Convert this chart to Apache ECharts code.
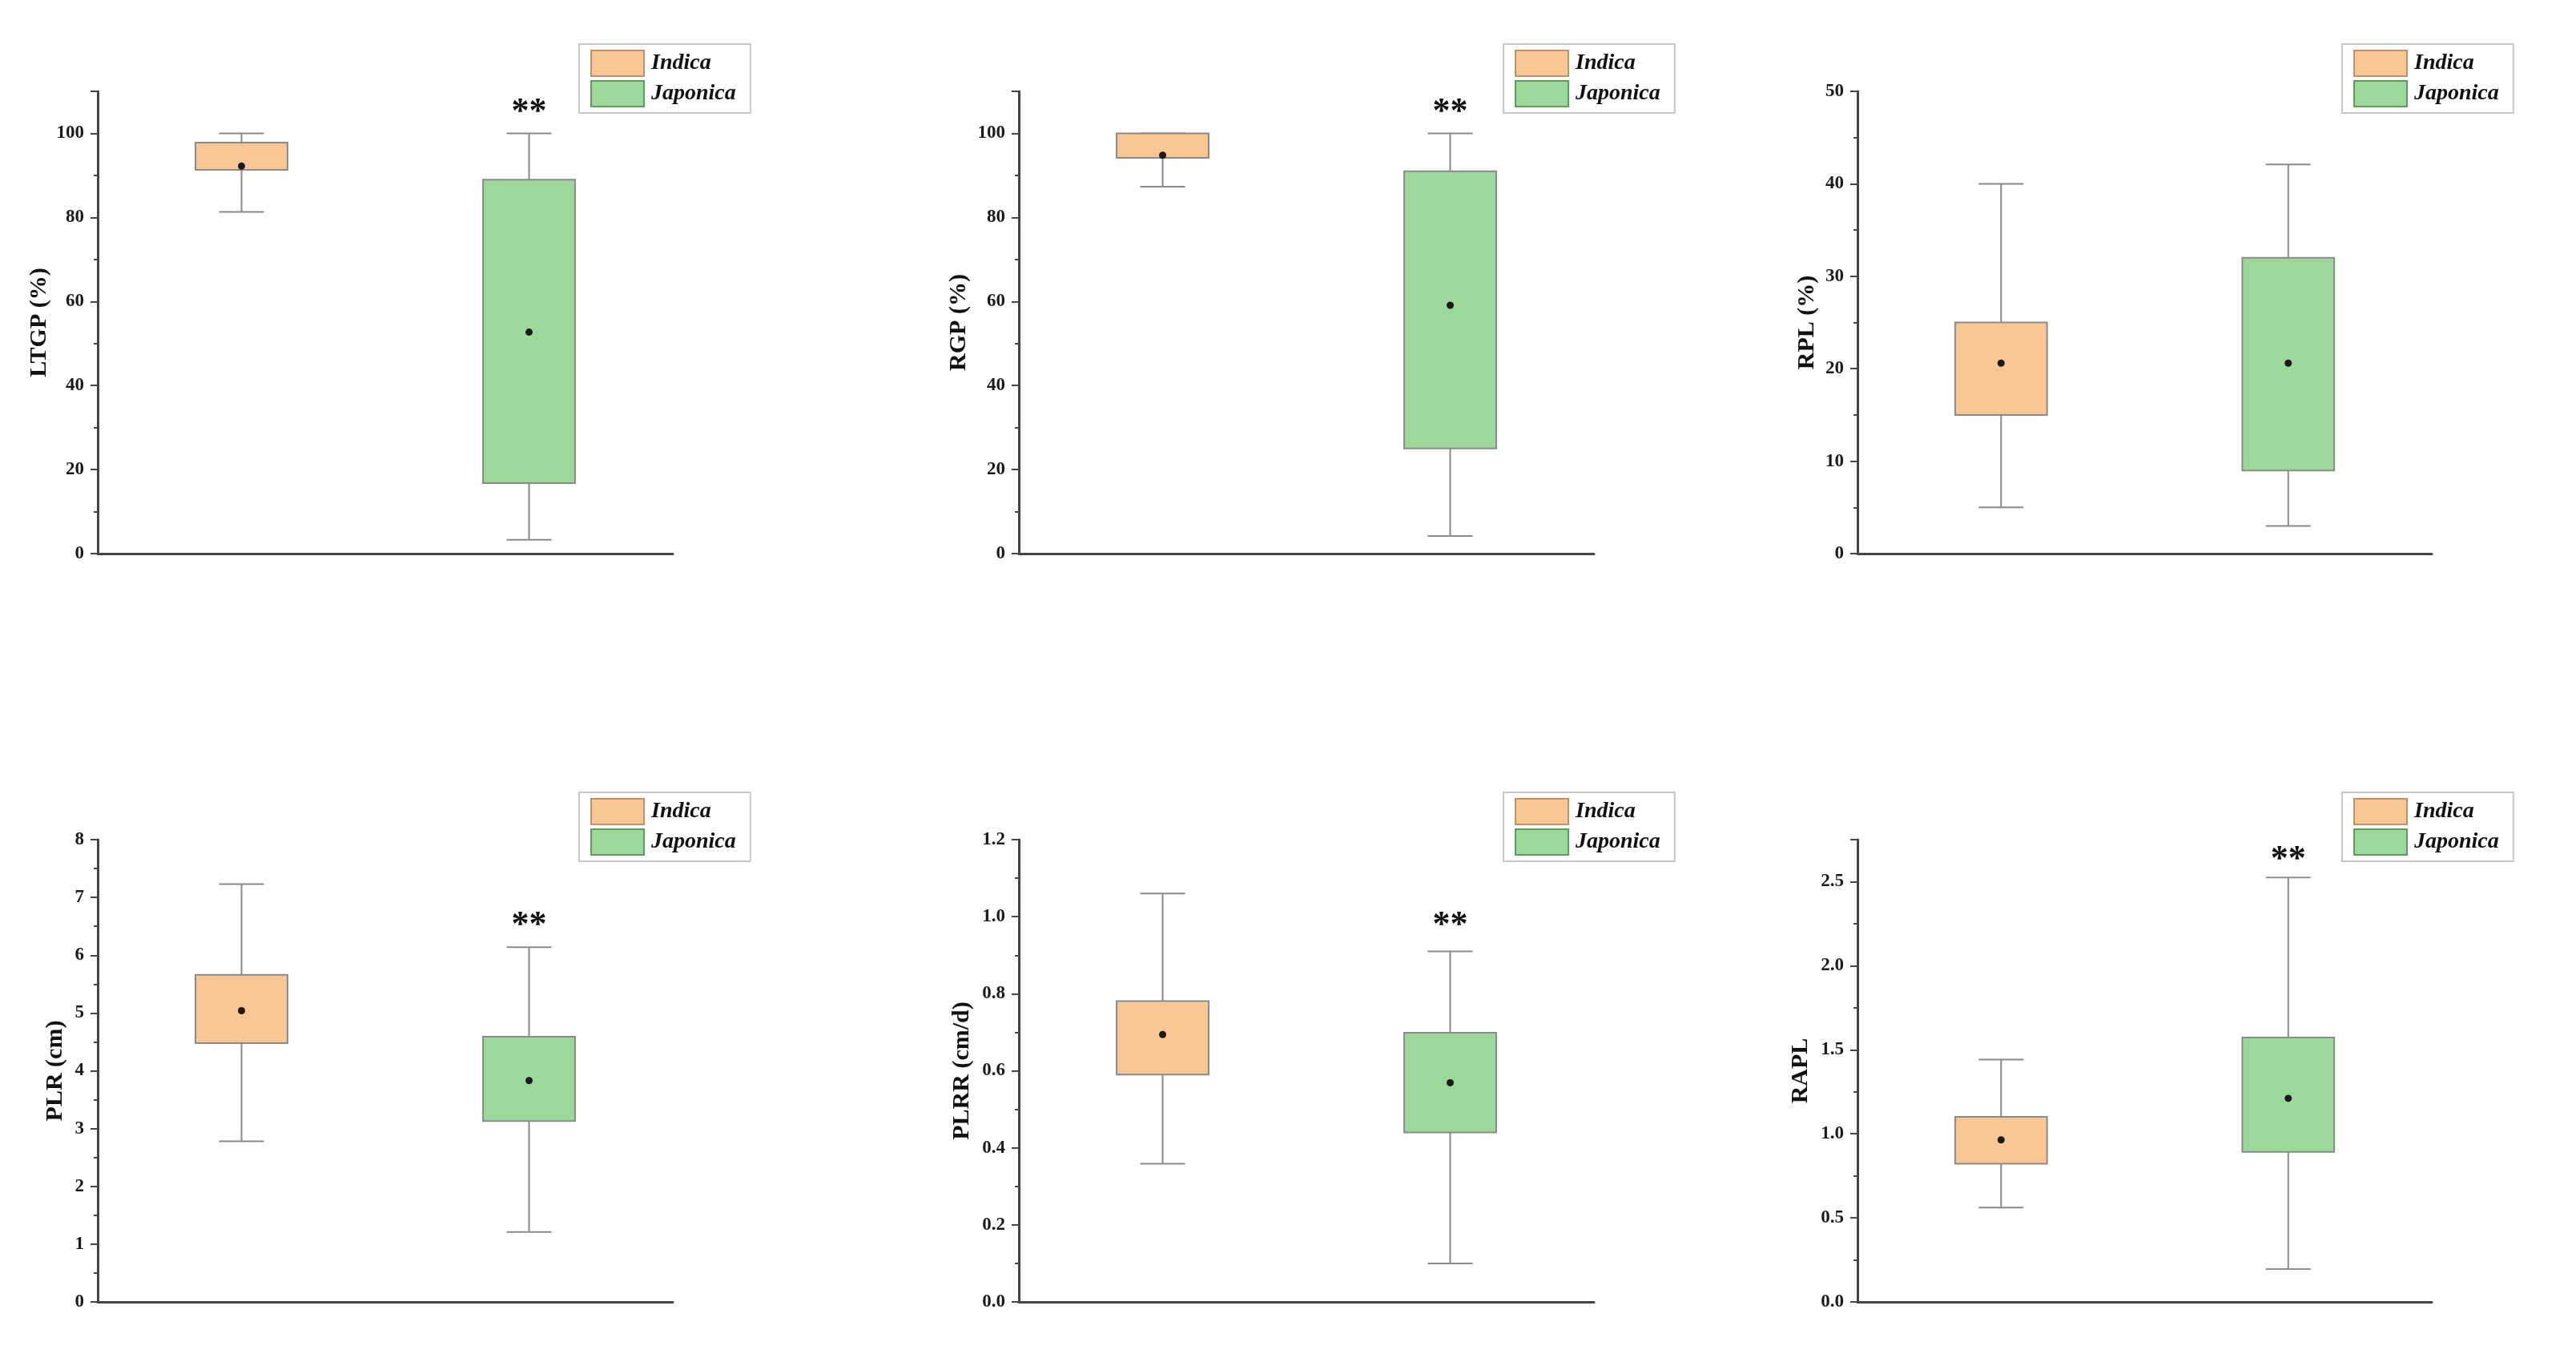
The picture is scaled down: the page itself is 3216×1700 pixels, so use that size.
<!DOCTYPE html>
<html>
<head>
<meta charset="utf-8">
<script src="https://cdn.jsdelivr.net/npm/echarts@6/dist/echarts.min.js"></script>
<style>
  html, body { margin: 0; padding: 0; background: #ffffff; }
  #chart { width: 3216px; height: 1700px; }
</style>
</head>
<body>
<div id="chart"></div>
<script>
// ---------------- data ----------------
const categories = ['Indica', 'Japonica'];
const yTitles = ['LTGP (%)', 'RGP (%)', 'RPL (%)', 'PLR (cm)', 'PLRR (cm/d)', 'RAPL'];
// each row: [whisker min, Q1, Q3, whisker max, mean]
const indicaStats = [
  [81.3, 91.3, 97.8, 100, 92.2],
  [87.3, 94.2, 100, 100, 94.8],
  [5.0, 15.0, 25.0, 40.0, 20.6],
  [2.78, 4.48, 5.66, 7.23, 5.04],
  [0.359, 0.590, 0.781, 1.060, 0.694],
  [0.561, 0.822, 1.101, 1.442, 0.964]
];
const japonicaStats = [
  [3.3, 16.8, 89.0, 100, 52.7],
  [4.2, 25.0, 91.0, 100, 59.1],
  [3.0, 9.0, 32.0, 42.1, 20.6],
  [1.21, 3.13, 4.59, 6.14, 3.83],
  [0.100, 0.440, 0.699, 0.910, 0.569],
  [0.195, 0.893, 1.573, 2.525, 1.211]
];
// significance mark "**" above Japonica (value-axis position), null = none
const starValues = [106, 106, null, 6.59, 0.988, 2.656];
const starText = '**';
// y-axis scales
const yMax = [110, 110, 50, 8, 1.2, 2.75];
const yInterval = [20, 20, 10, 1, 0.2, 0.5];
const yDecimals = [0, 0, 0, 0, 1, 1];
const yShowMaxLabel = [false, false, true, true, true, false];

// ---------------- layout ----------------
const gridRects = [
  { left: 122, top: 114, width: 718, height: 577 },
  { left: 1272, top: 114, width: 718, height: 577 },
  { left: 2319, top: 114, width: 717, height: 577 },
  { left: 122, top: 1048, width: 718, height: 577 },
  { left: 1272, top: 1048, width: 718, height: 577 },
  { left: 2319, top: 1048, width: 717, height: 577 }
];
const legendPos = [
  { left: 723, top: 55 }, { left: 1877, top: 55 }, { left: 2924, top: 55 },
  { left: 723, top: 989 }, { left: 1877, top: 989 }, { left: 2924, top: 989 }
];
const nameGaps = [58, 60, 48, 38, 56, 56];

const SERIF = "'Times New Roman', 'Liberation Serif', serif";
const fill = { Indica: '#F9C794', Japonica: '#9DD89B' };
const legendBorder = { Indica: '#C09068', Japonica: '#5E9C5E' };
const boxBorder = '#8a8a8a';
const whiskerColor = '#8a8a8a';
const axisColor = '#454545';

function renderBox(params, api) {
  const xi = api.value(0);
  const mn = api.value(1), q1 = api.value(2), q3 = api.value(3), mx = api.value(4), mean = api.value(5);
  const pMin = api.coord([xi, mn]);
  const pQ1 = api.coord([xi, q1]);
  const pQ3 = api.coord([xi, q3]);
  const pMax = api.coord([xi, mx]);
  const pMean = api.coord([xi, mean]);
  const band = api.size([1, 0])[0];
  const bw = band * 0.32;
  const cw = band * 0.156;
  const cx = pMin[0];
  const color = api.visual('color');
  const lineStyle = { stroke: whiskerColor, lineWidth: 2 };
  return {
    type: 'group',
    children: [
      { type: 'line', shape: { x1: cx, y1: pMin[1], x2: cx, y2: pQ1[1] }, style: lineStyle },
      { type: 'line', shape: { x1: cx, y1: pQ3[1], x2: cx, y2: pMax[1] }, style: lineStyle },
      { type: 'line', shape: { x1: cx - cw / 2, y1: pMin[1], x2: cx + cw / 2, y2: pMin[1] }, style: lineStyle },
      { type: 'line', shape: { x1: cx - cw / 2, y1: pMax[1], x2: cx + cw / 2, y2: pMax[1] }, style: lineStyle },
      { type: 'rect', shape: { x: cx - bw / 2, y: pQ3[1], width: bw, height: pQ1[1] - pQ3[1] },
        style: { fill: color, stroke: boxBorder, lineWidth: 2 } },
      { type: 'circle', shape: { cx: pMean[0], cy: pMean[1], r: 4.5 }, style: { fill: '#1a1a1a' } }
    ]
  };
}

function renderStar(params, api) {
  const p = api.coord([api.value(0), api.value(1)]);
  return {
    type: 'text',
    x: p[0], y: p[1] + 6,
    style: {
      text: starText, fill: '#111', font: 'bold 44px ' + SERIF,
      textAlign: 'center', textVerticalAlign: 'middle'
    }
  };
}

const grid = [], xAxis = [], yAxis = [], series = [], legend = [];
for (let i = 0; i < 6; i++) {
  grid.push(Object.assign({ containLabel: false }, gridRects[i]));
  xAxis.push({
    type: 'category', gridIndex: i, data: categories, boundaryGap: true,
    axisLine: { lineStyle: { color: axisColor, width: 3 } },
    axisTick: { alignWithLabel: true, length: 10, lineStyle: { color: axisColor, width: 2 } },
    axisLabel: { show: false },
    splitLine: { show: false }
  });
  const dec = yDecimals[i];
  yAxis.push({
    type: 'value', gridIndex: i, min: 0, max: yMax[i], interval: yInterval[i],
    name: yTitles[i], nameLocation: 'middle', nameGap: nameGaps[i], nameRotate: 90,
    nameTextStyle: { fontFamily: SERIF, fontWeight: 'bold', fontSize: 30, color: '#111' },
    axisLine: { show: true, lineStyle: { color: axisColor, width: 3 } },
    axisTick: { show: true, length: 9, lineStyle: { color: axisColor, width: 2 } },
    minorTick: { show: true, splitNumber: 2, length: 5, lineStyle: { color: axisColor, width: 2 } },
    axisLabel: {
      fontFamily: SERIF, fontWeight: 'bold', fontSize: 23, color: '#1a1a1a', margin: 17,
      formatter: v => Number(v).toFixed(dec),
      showMaxLabel: yShowMaxLabel[i]
    },
    splitLine: { show: false }
  });
  const groups = [['Indica', indicaStats[i], 0], ['Japonica', japonicaStats[i], 1]];
  groups.forEach(([name, st, ci]) => {
    series.push({
      type: 'custom', name: name, xAxisIndex: i, yAxisIndex: i,
      itemStyle: { color: fill[name], borderColor: legendBorder[name], borderWidth: 2 },
      encode: { x: 0, y: [1, 2, 3, 4, 5] },
      data: [[ci].concat(st)],
      renderItem: renderBox,
      silent: true
    });
  });
  if (starValues[i] !== null) {
    series.push({
      type: 'custom', name: 'sig', xAxisIndex: i, yAxisIndex: i,
      encode: { x: 0, y: 1 },
      data: [[1, starValues[i]]],
      renderItem: renderStar,
      silent: true
    });
  }
  legend.push({
    data: ['Indica', 'Japonica'], orient: 'vertical',
    left: legendPos[i].left, top: legendPos[i].top,
    icon: 'rect', itemWidth: 66, itemHeight: 32, itemGap: 4,
    padding: [7, 18, 7, 14],
    borderColor: '#c8c8c8', borderWidth: 2, backgroundColor: '#ffffff',
    selectedMode: false,
    textStyle: { fontFamily: SERIF, fontStyle: 'italic', fontWeight: 'bold', fontSize: 28, color: '#111', padding: [0, 0, 0, 4] }
  });
}

const chart = echarts.init(document.getElementById('chart'), null, { renderer: 'canvas' });
chart.setOption({
  backgroundColor: '#ffffff',
  animation: false,
  grid, xAxis, yAxis, series, legend
});
</script>
</body>
</html>
